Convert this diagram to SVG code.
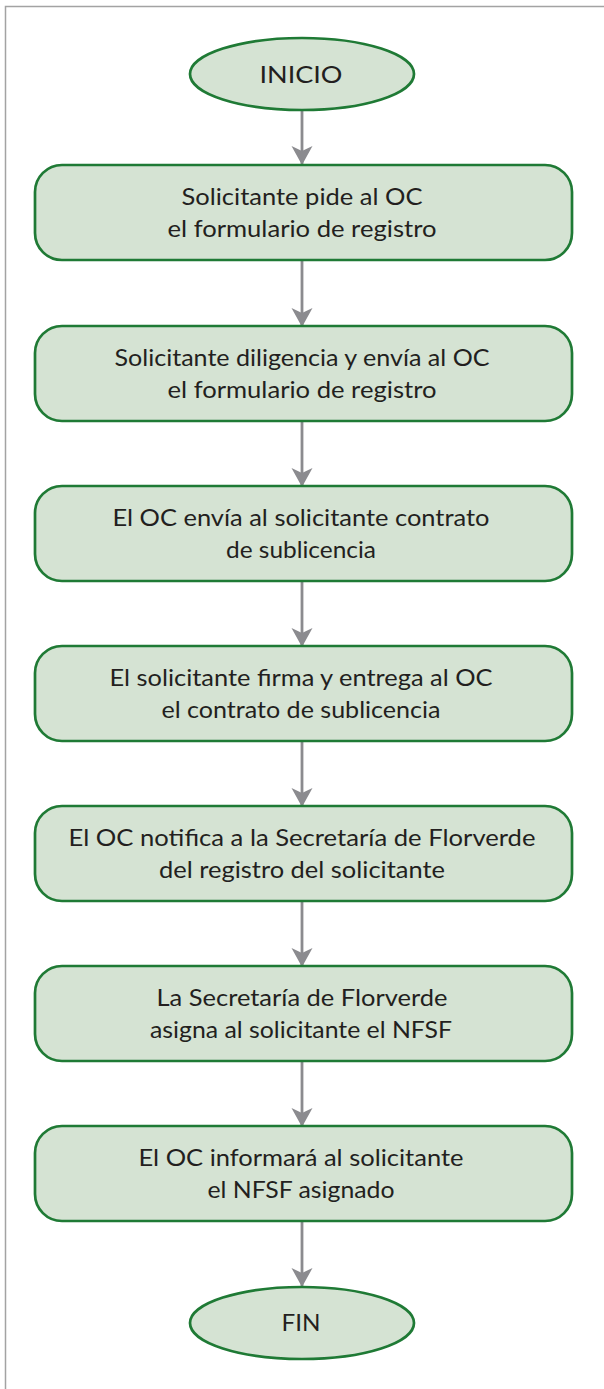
<svg xmlns="http://www.w3.org/2000/svg" width="604" height="1389" viewBox="0 0 604 1389">
<defs>
<style>
.node{fill:#d5e3d3;stroke:#1f7a35;stroke-width:2.7}
.t{font-family:Lato,"Liberation Sans",sans-serif;font-size:24px;fill:#231f20;text-anchor:middle}
.c{stroke:#8b8b8f;stroke-width:2.8;fill:none;marker-end:url(#ah)}
</style>
<marker id="ah" markerUnits="userSpaceOnUse" viewBox="-20 -12 22 24" refX="0" refY="0" markerWidth="22" markerHeight="24" orient="auto">
<path d="M0,0 L-19,-10.5 L-14,0 L-19,10.5 Z" fill="#8b8b8f"/>
</marker>
</defs>
<rect width="604" height="1389" fill="#ffffff"/>
<path d="M5.5,1389 V6.5 H604" fill="none" stroke="#a3a3a3" stroke-width="1.5"/>
<g id="connectors">
<line class="c" x1="302" y1="110" x2="302" y2="165"/>
<line class="c" x1="302" y1="260" x2="302" y2="327"/>
<line class="c" x1="302" y1="421" x2="302" y2="487"/>
<line class="c" x1="302" y1="581" x2="302" y2="647"/>
<line class="c" x1="302" y1="741" x2="302" y2="807"/>
<line class="c" x1="302" y1="901" x2="302" y2="967"/>
<line class="c" x1="302" y1="1061" x2="302" y2="1127"/>
<line class="c" x1="302" y1="1221" x2="302" y2="1287"/>
</g>
<g id="inicio">
<ellipse class="node" cx="302" cy="74" rx="112" ry="36"/>
<text class="t" x="301" y="83" textLength="83" lengthAdjust="spacingAndGlyphs">INICIO</text>
</g>
<g id="n1">
<rect class="node" x="35" y="165" width="537" height="95" rx="27"/>
<text class="t" x="302" y="205" textLength="241" lengthAdjust="spacingAndGlyphs">Solicitante pide al OC</text>
<text class="t" x="302" y="237" textLength="269" lengthAdjust="spacingAndGlyphs">el formulario de registro</text>
</g>
<g id="n2">
<rect class="node" x="35" y="326" width="537" height="95" rx="27"/>
<text class="t" x="302" y="366" textLength="375" lengthAdjust="spacingAndGlyphs">Solicitante diligencia y envía al OC</text>
<text class="t" x="302" y="398" textLength="269" lengthAdjust="spacingAndGlyphs">el formulario de registro</text>
</g>
<g id="n3">
<rect class="node" x="35" y="486" width="537" height="95" rx="27"/>
<text class="t" x="301" y="526" textLength="377" lengthAdjust="spacingAndGlyphs">El OC envía al solicitante contrato</text>
<text class="t" x="301" y="558" textLength="150" lengthAdjust="spacingAndGlyphs">de sublicencia</text>
</g>
<g id="n4">
<rect class="node" x="35" y="646" width="537" height="95" rx="27"/>
<text class="t" x="301" y="686" textLength="383" lengthAdjust="spacingAndGlyphs">El solicitante firma y entrega al OC</text>
<text class="t" x="301" y="718" textLength="279" lengthAdjust="spacingAndGlyphs">el contrato de sublicencia</text>
</g>
<g id="n5">
<rect class="node" x="35" y="806" width="537" height="95" rx="27"/>
<text class="t" x="302" y="846" textLength="467" lengthAdjust="spacingAndGlyphs">El OC notifica a la Secretaría de Florverde</text>
<text class="t" x="302" y="878" textLength="286" lengthAdjust="spacingAndGlyphs">del registro del solicitante</text>
</g>
<g id="n6">
<rect class="node" x="35" y="966" width="537" height="95" rx="27"/>
<text class="t" x="302" y="1006" textLength="291" lengthAdjust="spacingAndGlyphs">La Secretaría de Florverde</text>
<text class="t" x="301" y="1038" textLength="302" lengthAdjust="spacingAndGlyphs">asigna al solicitante el NFSF</text>
</g>
<g id="n7">
<rect class="node" x="35" y="1126" width="537" height="95" rx="27"/>
<text class="t" x="301" y="1166" textLength="325" lengthAdjust="spacingAndGlyphs">El OC informará al solicitante</text>
<text class="t" x="301" y="1198" textLength="187" lengthAdjust="spacingAndGlyphs">el NFSF asignado</text>
</g>
<g id="fin">
<ellipse class="node" cx="302" cy="1323" rx="112" ry="36"/>
<text class="t" x="301" y="1331" textLength="39" lengthAdjust="spacingAndGlyphs">FIN</text>
</g>
</svg>
